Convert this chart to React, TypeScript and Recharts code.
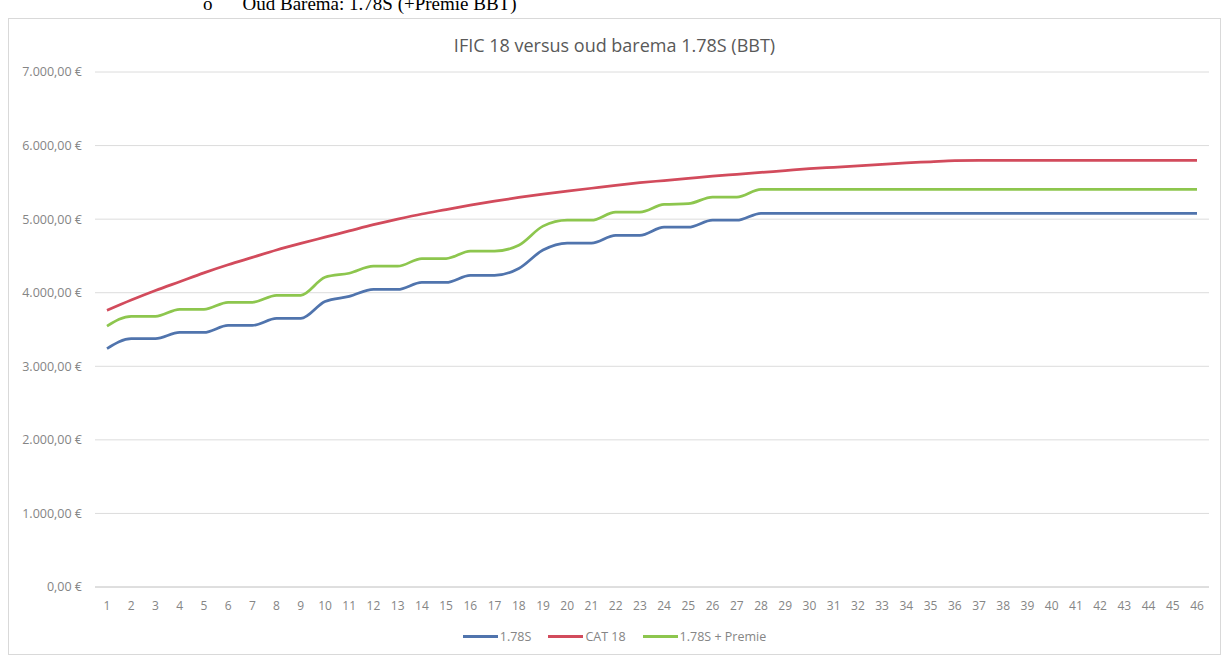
import React from "react";
import {
  LineChart,
  Line,
  XAxis,
  YAxis,
  CartesianGrid,
} from "recharts";

// years of service
const years = [
  "1", "2", "3", "4", "5", "6", "7", "8", "9", "10",
  "11", "12", "13", "14", "15", "16", "17", "18", "19", "20",
  "21", "22", "23", "24", "25", "26", "27", "28", "29", "30",
  "31", "32", "33", "34", "35", "36", "37", "38", "39", "40",
  "41", "42", "43", "44", "45", "46",
];

const barema178S = [
  3240, 3375, 3375, 3460, 3460, 3555, 3555, 3650, 3650, 3880,
  3950, 4045, 4045, 4140, 4140, 4235, 4235, 4330, 4580, 4675,
  4675, 4780, 4780, 4890, 4890, 4985, 4985, 5080, 5080, 5080,
  5080, 5080, 5080, 5080, 5080, 5080, 5080, 5080, 5080, 5080,
  5080, 5080, 5080, 5080, 5080, 5080,
];

const cat18 = [
  3760, 3900, 4030, 4150, 4270, 4380, 4480, 4580, 4670, 4755,
  4840, 4925, 5000, 5070, 5130, 5190, 5245, 5295, 5340, 5380,
  5420, 5460, 5495, 5525, 5555, 5585, 5610, 5635, 5660, 5685,
  5705, 5725, 5745, 5765, 5780, 5795, 5800, 5800, 5800, 5800,
  5800, 5800, 5800, 5800, 5800, 5800,
];

const barema178SPremie = [
  3545, 3680, 3680, 3775, 3775, 3870, 3870, 3965, 3965, 4210,
  4265, 4360, 4360, 4465, 4465, 4565, 4565, 4645, 4905, 4985,
  4985, 5095, 5095, 5200, 5210, 5300, 5300, 5405, 5405, 5405,
  5405, 5405, 5405, 5405, 5405, 5405, 5405, 5405, 5405, 5405,
  5405, 5405, 5405, 5405, 5405, 5405,
];

const yTicks = [0, 1000, 2000, 3000, 4000, 5000, 6000, 7000];

const series = [
  { key: "b178", name: "1.78S", color: "#5074ad", values: barema178S },
  { key: "cat18", name: "CAT 18", color: "#d24b5c", values: cat18 },
  { key: "premie", name: "1.78S + Premie", color: "#8dc64e", values: barema178SPremie },
];

const chartData = years.map((year, i) => ({
  year,
  b178: barema178S[i],
  cat18: cat18[i],
  premie: barema178SPremie[i],
}));

const euro = (v: number) =>
  v.toLocaleString("de-DE", { minimumFractionDigits: 2, maximumFractionDigits: 2 }) + " €";

const font = "'Open Sans', 'Liberation Sans', sans-serif";

export default function App() {
  return (
    <div style={{ position: "absolute", left: 0, top: 0, width: 1228, height: 658, overflow: "hidden", background: "#fff" }}>
      {/* tail of the document line above the chart */}
      <div
        style={{
          position: "absolute",
          left: 203,
          top: -7,
          fontFamily: "'Liberation Serif', serif",
          fontSize: 19,
          lineHeight: "22px",
          color: "#000",
          whiteSpace: "nowrap",
        }}
      >
        o<span style={{ marginLeft: 30 }}>Oud Barema: 1.78S (+Premie BBT)</span>
      </div>

      <div
        style={{
          position: "absolute",
          left: 8,
          top: 18,
          width: 1213,
          height: 637,
          border: "1px solid #d9d9d9",
          boxSizing: "border-box",
        }}
      >
        <div
          style={{
            position: "absolute",
            left: 0,
            right: 0,
            top: 14,
            textAlign: "center",
            fontFamily: font,
            fontSize: 18,
            color: "#595959",
          }}
        >
          IFIC 18 versus oud barema 1.78S (BBT)
        </div>

        <LineChart
          width={1211}
          height={635}
          data={chartData}
          margin={{ top: 53, right: 11, bottom: 0, left: 0 }}
        >
          <CartesianGrid vertical={false} stroke="#dcdcdc" />
          <XAxis
            dataKey="year"
            interval={0}
            padding={{ left: 12, right: 12 }}
            tickLine={false}
            axisLine={{ stroke: "#d0d0d0" }}
            tickSize={0}
            tickMargin={14}
            height={67}
            tick={{ fill: "#858585", fontSize: 12, fontFamily: font }}
          />
          <YAxis
            domain={[0, 7000]}
            ticks={yTicks}
            tickFormatter={euro}
            width={86}
            axisLine={false}
            tickLine={false}
            tickSize={0}
            tickMargin={13}
            tick={{ fill: "#858585", fontSize: 12.5, fontFamily: font }}
          />
          {series.map((s) => (
            <Line
              key={s.key}
              dataKey={s.key}
              name={s.name}
              type="monotone"
              stroke={s.color}
              strokeWidth={2.75}
              dot={false}
              isAnimationActive={false}
            />
          ))}
        </LineChart>

        <div
          style={{
            position: "absolute",
            left: 0,
            right: 0,
            top: 609,
            display: "flex",
            justifyContent: "center",
            gap: 17,
            fontFamily: font,
            fontSize: 12.5,
            color: "#858585",
          }}
        >
          {series.map((s) => (
            <div key={s.key} style={{ display: "flex", alignItems: "center" }}>
              <span style={{ display: "inline-block", width: 35, height: 3, background: s.color, marginRight: 2 }} />
              {s.name}
            </div>
          ))}
        </div>
      </div>
    </div>
  );
}
